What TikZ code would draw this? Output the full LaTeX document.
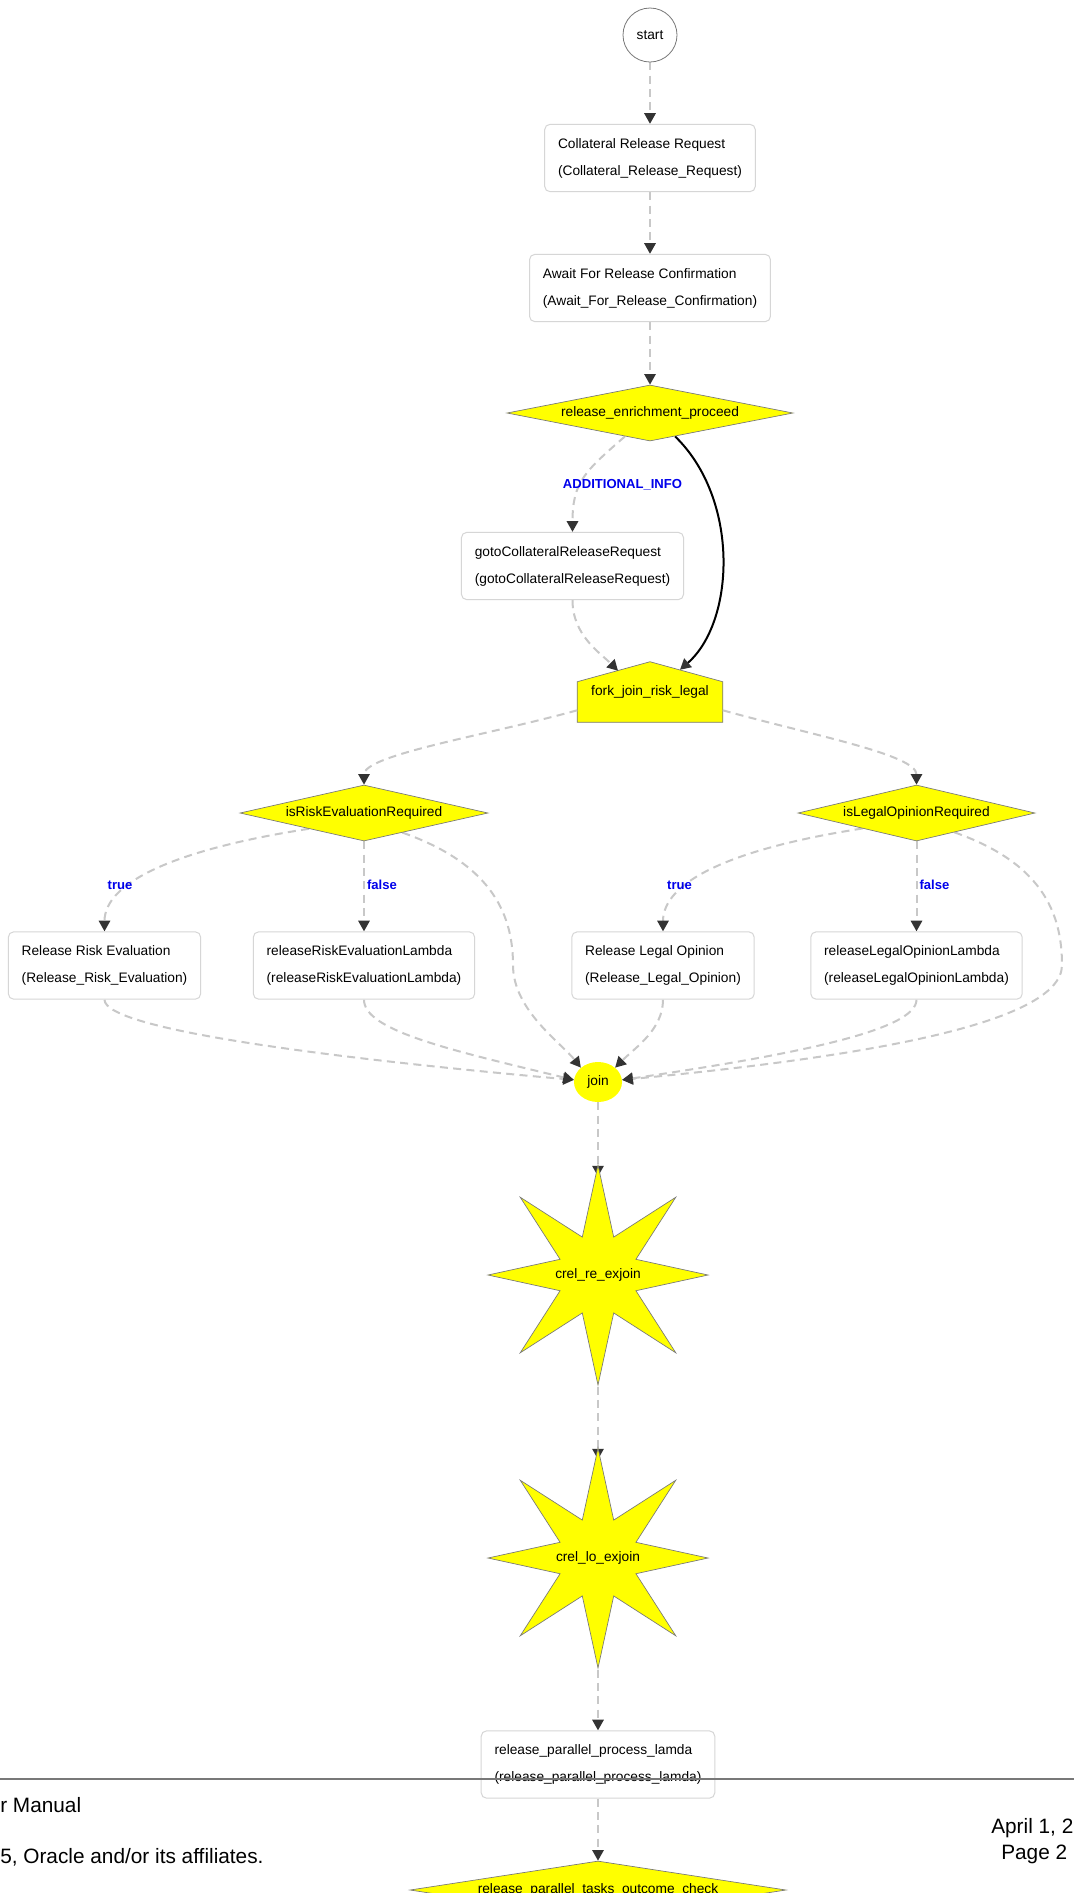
\documentclass[tikz,border=0pt]{standalone}
\usepackage{fontspec}
\setmainfont{Liberation Sans}
\usetikzlibrary{arrows.meta,shapes.geometric,backgrounds,calc}
\definecolor{Y1}{RGB}{255,255,0}
\definecolor{G1}{RGB}{200,200,200}
\definecolor{G2}{RGB}{51,51,51}
\definecolor{G3}{RGB}{214,214,214}
\definecolor{G4}{RGB}{120,120,120}
\definecolor{B1}{RGB}{0,0,235}

\begin{document}
\begin{tikzpicture}[x=0.75pt,y=-0.75pt,
    font=\fontsize{10.3}{20.25}\selectfont,
    task/.style={rectangle, rounded corners=4pt, draw=G3, fill=white, line width=0.75pt, align=left, inner xsep=10pt, inner ysep=0pt, minimum height=50.5pt, execute at begin node={\rule{0pt}{12pt}}},
    gate/.style={diamond, draw=G4, fill=Y1, line width=0.5pt, inner sep=0pt, shape aspect=6},
    burst/.style={star, star points=8, star point ratio=2.68, draw=G4, fill=Y1, line width=0.5pt, inner sep=0pt, minimum size=165pt},
    flow/.style={G1, line width=1.5pt, dash pattern=on 6pt off 4pt, -{Triangle[length=8pt,width=8.5pt,color=G2]}},
    cond/.style={font=\fontsize{9.8}{12}\selectfont\bfseries, text=B1, inner sep=0pt},
    foot/.style={font=\fontsize{15.6}{18}\selectfont, anchor=base west, inner sep=0pt}]
    \useasboundingbox (0,0) rectangle (1074,1893);
    \clip (0,0) rectangle (1074,1893);

    \node[circle, draw=G4, fill=white, line width=0.6pt, minimum size=40.5pt, inner sep=0pt] (start) at (650,35) {start};
    \node[task] (relreq) at (650,158) {Collateral Release Request\\(Collateral\_Release\_Request)};
    \node[task] (awaitconf) at (650,288) {Await For Release Confirmation\\(Await\_For\_Release\_Confirmation)};
    \node[gate, minimum width=214.5pt, minimum height=42pt] (enrich) at (650,413) {release\_enrichment\_proceed};
    \node[task] (gotoreq) at (572.5,566) {gotoCollateralReleaseRequest\\(gotoCollateralReleaseRequest)};
    \node[minimum width=108.75pt, minimum height=45pt, inner sep=0pt] (fork) at (650,692) {fork\_join\_risk\_legal};
    \node[gate, minimum width=186pt, minimum height=42pt] (riskq) at (364,813) {isRiskEvaluationRequired};
    \node[gate, minimum width=177.75pt, minimum height=42pt] (legalq) at (916.5,813) {isLegalOpinionRequired};
    \node[task] (riskeval) at (104.5,965.5) {Release Risk Evaluation\\(Release\_Risk\_Evaluation)};
    \node[task] (risklambda) at (364,965.5) {releaseRiskEvaluationLambda\\(releaseRiskEvaluationLambda)};
    \node[task] (legalop) at (663,965.5) {Release Legal Opinion\\(Release\_Legal\_Opinion)};
    \node[task] (legallambda) at (916.5,965.5) {releaseLegalOpinionLambda\\(releaseLegalOpinionLambda)};
    \node[ellipse, fill=Y1, minimum width=36pt, minimum height=30pt, inner sep=0pt] (join) at (598,1082) {join};
    \node[burst, label={center:crel\_re\_exjoin}] (rejoin) at (598,1275) {};
    \node[burst, label={center:crel\_lo\_exjoin}] (lojoin) at (598,1558) {};
    \node[task] (parlamda) at (598,1764.5) {release\_parallel\_process\_lamda\\(release\_parallel\_process\_lamda)};
    \node[gate, minimum width=282pt, minimum height=43.5pt] (outcome) at (598,1890) {release\_parallel\_tasks\_outcome\_check};

    \node[cond] (lbinfo) at (622.5,485) {ADDITIONAL\_INFO};
    \node[cond] (lbtrueA) at (120,885) {true};
    \node[cond] (lbfalseA) at (382,885) {false};
    \node[cond] (lbtrueB) at (679.5,885) {true};
    \node[cond] (lbfalseB) at (934.5,885) {false};

    \begin{scope}[on background layer]
    \fill[white] (0,0) rectangle (1074,1893);
    \filldraw[fill=Y1, draw=G4, line width=0.5pt] (fork.south west) -- (fork.south east) -- ($(fork.north east)+(0,20)$) -- (fork.north) -- ($(fork.north west)+(0,20)$) -- cycle;
    \draw[flow] (start) -- (relreq);
    \draw[flow] (relreq) -- (awaitconf);
    \draw[flow] (awaitconf) -- (enrich);
    \draw[flow] (enrich.-137) .. controls +(-40,35) and +(0,-50) .. (gotoreq.north);
    \draw[line width=1.5pt, -{Triangle[length=8pt,width=8.5pt,color=G2]}] (enrich.-43) .. controls +(65,63) and +(55,-48) .. ($(fork.north)+(30,8)$);
    \draw[flow] (gotoreq.south) .. controls +(0,35) and +(-18,-18) .. ($(fork.north)+(-32,9)$);
    \draw[flow] ($(fork.south west)+(0,-12)$) .. controls +(-90,25) and +(0,-30) .. (riskq.north);
    \draw[flow] ($(fork.south east)+(0,-12)$) .. controls +(90,25) and +(0,-30) .. (legalq.north);
    \draw[flow] (riskq.-164) .. controls +(-130,20) and +(0,-50) .. (riskeval.north);
    \draw[flow] (riskq) -- (risklambda);
    \draw[flow] (legalq.-164) .. controls +(-130,20) and +(0,-50) .. (legalop.north);
    \draw[flow] (legalq) -- (legallambda);
    \draw[flow] (riskeval.south) .. controls +(0,31) and +(-224,-20) .. (join.175);
    \draw[flow] (risklambda.south) .. controls +(0,31) and +(-124,-30) .. (join.175);
    \draw[flow] (riskq.-27) .. controls +(85,30) and +(0,-55) .. (513,965) .. controls +(0,45) and +(-20,-25) .. (join.140);
    \draw[flow] (legalop.south) .. controls +(0,30) and +(20,-20) .. (join.40);
    \draw[flow] (legallambda.south) .. controls +(0,31) and +(170,-25) .. (join.5);
    \draw[flow] (legalq.-27) .. controls +(85,30) and +(0,-55) .. (1062,965) .. controls +(0,60) and +(230,-22) .. (join.5);
    \draw[flow] (join) -- ($(rejoin.north)+(0,13)$);
    \draw[flow] (rejoin) -- ($(lojoin.north)+(0,13)$);
    \draw[flow] (lojoin) -- (parlamda);
    \draw[flow] (parlamda) -- (outcome);
    \end{scope}

    \draw[G4, line width=1.1pt] (0,1779) -- (1074,1779);
    \node[foot] (manual) at (0,1812) {r Manual};
    \node[foot] (rights) at (0,1863) {5, Oracle and/or its affiliates.};
    \node[foot] (date) at (991,1833) {April 1, 2};
    \node[foot] (page) at (1001,1859) {Page 2};
\end{tikzpicture}
\end{document}
